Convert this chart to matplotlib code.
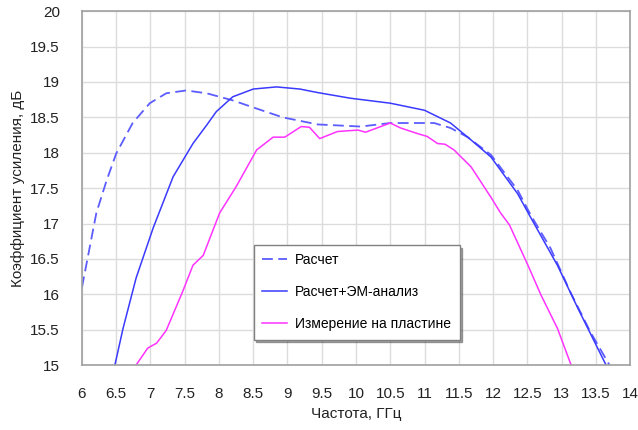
import matplotlib.pyplot as plt

plt.rcParams['font.family'] = ['Liberation Sans', 'DejaVu Sans']

# Расчет (пунктир)
f_calc = [6.0, 6.21, 6.36, 6.5, 6.74, 6.99, 7.23, 7.52, 7.82, 8.2, 8.5, 8.93, 9.44,
          10.07, 10.5, 10.9, 11.14, 11.38, 11.63, 11.97, 12.36, 12.55, 12.84, 13.13, 13.42, 13.70]
g_calc = [16.1, 17.15, 17.61, 17.99, 18.42, 18.70, 18.84, 18.88, 18.84, 18.74, 18.64, 18.50, 18.40,
          18.37, 18.42, 18.42, 18.42, 18.35, 18.22, 17.97, 17.47, 17.12, 16.65, 16.03, 15.47, 15.0]

# Расчет+ЭМ-анализ
f_em = [6.48, 6.6, 6.79, 7.04, 7.33, 7.62, 7.82, 7.96, 8.2, 8.5, 8.84, 9.18, 9.44, 9.92,
        10.5, 11.0, 11.38, 11.68, 11.97, 12.36, 12.53, 12.94, 13.24, 13.65]
g_em = [15.0, 15.52, 16.23, 16.94, 17.66, 18.13, 18.39, 18.58, 18.79, 18.9, 18.93, 18.9, 18.85, 18.77,
        18.70, 18.6, 18.42, 18.18, 17.94, 17.42, 17.12, 16.41, 15.8, 15.0]

# Измерение на пластине
f_meas = [6.79, 6.96, 7.09, 7.23, 7.47, 7.62, 7.77, 8.01, 8.25, 8.55, 8.79, 8.96, 9.2, 9.32,
          9.47, 9.73, 10.03, 10.14, 10.5, 10.65, 10.9, 11.04, 11.19, 11.3, 11.43, 11.68,
          11.97, 12.11, 12.24, 12.51, 12.7, 12.94, 13.14]
g_meas = [15.0, 15.24, 15.31, 15.49, 16.04, 16.41, 16.55, 17.15, 17.52, 18.04, 18.22, 18.22, 18.37, 18.36,
          18.2, 18.30, 18.32, 18.29, 18.42, 18.35, 18.27, 18.23, 18.13, 18.12, 18.04, 17.8,
          17.37, 17.15, 16.98, 16.41, 15.99, 15.52, 15.0]

xticks = [6 + 0.5 * i for i in range(17)]
yticks = [15 + 0.5 * i for i in range(11)]

fig = plt.figure(figsize=(6.38, 4.30), dpi=100)
ax = fig.add_axes([0.1285, 0.151, 0.859, 0.823])

ax.plot(f_calc, g_calc, color='#5c5cff', lw=1.3, ls=(0, (6, 3)), label='Расчет')
ax.plot(f_em, g_em, color='#3a3aff', lw=1.1, label='Расчет+ЭМ-анализ')
ax.plot(f_meas, g_meas, color='#ff33ff', lw=1.1, label='Измерение на пластине')

ax.set_xlim(6, 14)
ax.set_ylim(15, 20)
ax.set_xticks(xticks)
ax.set_xticklabels([f'{v:g}' for v in xticks])
ax.set_yticks(yticks)
ax.set_yticklabels([f'{v:g}' for v in yticks])
ax.tick_params(length=0, labelsize=11, colors='#222222')
ax.tick_params(axis='x', pad=16)
ax.tick_params(axis='y', pad=16)
ax.grid(color='#dcdcdc', lw=1)
ax.set_axisbelow(True)
for s in ax.spines.values():
    s.set_color('#a0a0a0')
    s.set_linewidth(1.2)

ax.set_xlabel('Частота, ГГц', fontsize=11, color='#222222', labelpad=4)
ax.set_ylabel('Коэффициент усиления, дБ', fontsize=11, color='#222222', labelpad=4)

leg = ax.legend(loc='upper left', bbox_to_anchor=(0.313, 0.340), borderaxespad=0,
                frameon=True, fancybox=False, shadow=True, fontsize=10,
                handlelength=1.8, labelspacing=1.3, borderpad=0.6,
                handletextpad=0.6, edgecolor='#808080')
leg.get_frame().set_linewidth(1.0)

fig.savefig('out.png', dpi=100)
